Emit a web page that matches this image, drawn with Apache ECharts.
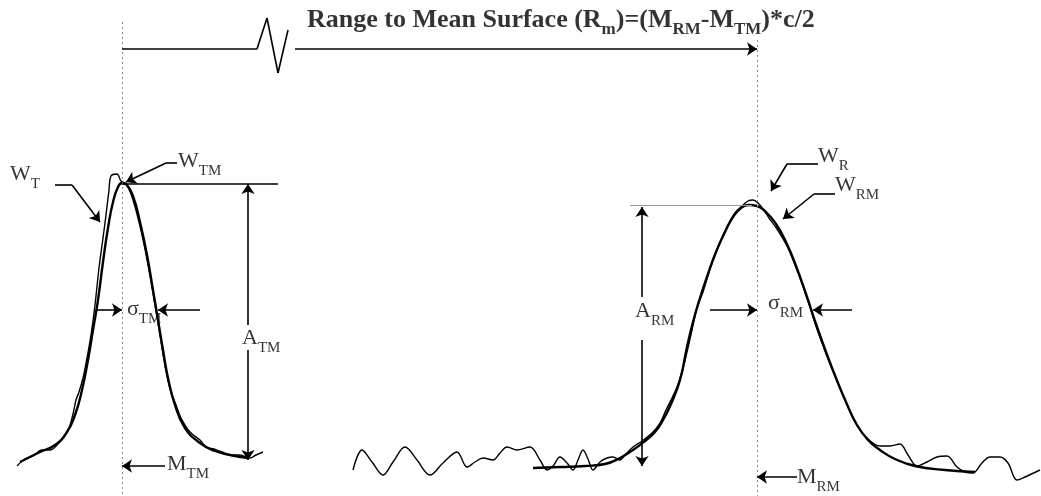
<!DOCTYPE html>
<html>
<head>
<meta charset="utf-8">
<script src="https://cdn.jsdelivr.net/npm/echarts@6/dist/echarts.min.js"></script>
<style>
  html, body { margin: 0; padding: 0; background: #fff; }
  #chart { width: 1041px; height: 496px; }
</style>
</head>
<body>
<div id="chart"></div>
<script>
// Time bin (x) and return amplitude (y) samples of the two pulses.
// Transmitted pulse, raw samples (W_T)
const txRaw = [[17,30],[25,37],[33,40],[42,46],[50,46],[58,52],[64,59],[69,68],[73,82],[76,96],[79,104],[83,118],[87,138],[91,161],[95,191],[99,228],[103,258],[106,281],[109,306],[111,320],[117,322],[121,315],[126,312],[131,302],[137,282],[144,252],[150,220],[155,191],[160,161],[164,136],[167,120],[171,104],[176,91],[181,78],[190,64],[200,56],[206,49],[214,47],[222,44],[232,41],[240,41],[250,38],[256,41],[263,44]];
// Transmitted pulse, fitted model (W_TM)
const txFit = [[20,34],[40,44],[55,51],[67,64],[75,81],[82,106],[88,136],[93,166],[98,196],[103,234],[108,268],[113,294],[118,309],[122,313],[127,311],[133,300],[140,274],[147,241],[153,206],[158,176],[163,146],[168,118],[175,91],[185,68],[200,53],[215,45],[230,41],[248,38]];
// Received pulse, raw samples (W_R)
const rxRaw = [[353,26],[362,46],[372,34],[383,21],[393,34],[405,49],[417,36],[430,21],[443,33],[457,44],[467,29],[475,34],[483,38],[493,36],[500,43],[507,49],[517,46],[530,49],[540,36],[547,26],[553,30],[560,39],[567,33],[573,26],[578,36],[583,46],[588,37],[593,26],[600,34],[607,38],[613,39],[620,36],[625,41],[633,49],[642,55],[652,63],[660,73],[666,86],[672,98],[677,109],[682,124],[687,144],[692,166],[697,188],[703,204],[709,224],[715,241],[721,256],[728,271],[735,283],[742,290],[748,295],[753,296],[758,293],[763,287],[769,278],[777,267],[787,250],[797,226],[807,198],[817,167],[827,140],[835,120],[845,96],[855,74],[866,59],[880,50],[890,50],[900,52],[908,41],[917,30],[927,34],[937,39],[947,40],[957,29],[965,24],[973,23],[982,33],[990,39],[1000,39],[1008,33],[1017,16],[1025,19],[1040,26]];
// Received pulse, fitted model (W_RM)
const rxFit = [[533,28],[560,29],[585,30],[605,32],[620,38],[633,46],[645,55],[655,64],[663,76],[671,92],[680,116],[687,149],[693,174],[700,198],[708,222],[716,244],[725,264],[733,279],[741,288],[749,291],[757,290],[766,284],[776,272],[786,254],[796,230],[806,202],[816,172],[826,144],[836,118],[846,94],[857,71],[868,56],[880,46],[895,37],[915,30],[945,26],[975,24]];

// Fitted pulse parameters
const mTM = 122, mRM = 757;         // pulse means (time bins)
const aTopTM = 312, aBaseTM = 36;   // transmit amplitude top / baseline
const aTopRM = 291, aBaseRM = 30;   // receive amplitude top / baseline
const sigmaLevel = 186;             // level of the width markers

// Text annotations: [x, y, main, subscript]
const labels = [
  [10, 322, 'W', 'T'],
  [178, 335, 'W', 'TM'],
  [127, 187, 'σ', 'TM'],
  [242, 158, 'A', 'TM'],
  [167, 32, 'M', 'TM'],
  [635, 185, 'A', 'RM'],
  [768, 193, 'σ', 'RM'],
  [818, 340, 'W', 'R'],
  [835, 311, 'W', 'RM'],
  [797, 19, 'M', 'RM']
];
const titleText = '{bm|Range to Mean Surface (R}{bs|m}{bm|)=(M}{bs|RM}{bm|-M}{bs|TM}{bm|)*c/2}';

const ink = '#000';
const solid = { color: ink, width: 1.6, type: 'solid' };
const thinGrey = { color: '#9a9a9a', width: 1, type: 'solid' };
const dotted = { color: '#8a8a8a', width: 1, type: [2, 3] };

function seg(a, b, arrow, style) {
  return [
    { coord: a, symbol: 'none', lineStyle: style || solid },
    { coord: b, symbol: arrow ? 'arrow' : 'none', symbolSize: 10 }
  ];
}

const guides = [
  // pulse mean markers
  seg([mTM, 474], [mTM, 0], false, dotted),
  seg([mRM, 456], [mRM, 0], false, dotted),
  // range arrow with break
  seg([mTM, 447], [257, 447]),
  seg([257, 447], [267, 478]),
  seg([267, 478], [278, 423]),
  seg([278, 423], [288, 466]),
  seg([295, 447], [mRM, 447], true),
  // transmit pulse annotations
  seg([mTM, aTopTM], [278, aTopTM]),
  seg([248, 171], [248, aTopTM], true),
  seg([248, 146], [248, aBaseTM], true),
  seg([96, sigmaLevel], [mTM, sigmaLevel], true),
  seg([200, sigmaLevel], [158, sigmaLevel], true),
  seg([165, 30], [mTM, 30], true),
  seg([55, 311], [72, 311]),
  seg([72, 311], [100, 274], true),
  seg([177, 333], [166, 333]),
  seg([166, 333], [126, 314], true),
  // receive pulse annotations
  seg([630, aTopRM], [752, aTopRM], false, thinGrey),
  seg([642, 199], [642, aTopRM - 2], true),
  seg([642, 156], [642, aBaseRM], true),
  seg([710, sigmaLevel], [mRM, sigmaLevel], true),
  seg([852, sigmaLevel], [813, sigmaLevel], true),
  seg([797, 19], [mRM, 19], true),
  seg([818, 332], [787, 332]),
  seg([787, 332], [771, 305], true),
  seg([835, 302], [814, 302]),
  seg([814, 302], [783, 277], true)
];

const serif = '"Liberation Serif", "DejaVu Serif", serif';
const labelData = labels.map(function (l) {
  return { value: [l[0], l[1]], label: { formatter: '{m|' + l[2] + '}{s|' + l[3] + '}' } };
});
labelData.push({ value: [307, 476], label: { formatter: titleText } });

const chart = echarts.init(document.getElementById('chart'), null, { renderer: 'canvas' });
chart.setOption({
  animation: false,
  backgroundColor: '#ffffff',
  grid: { left: 0, right: 0, top: 0, bottom: 0 },
  xAxis: { type: 'value', min: 0, max: 1041, show: false },
  yAxis: { type: 'value', min: 0, max: 496, show: false },
  series: [
    { name: 'W_T', type: 'line', data: txRaw, showSymbol: false, smooth: 0.35,
      lineStyle: { color: ink, width: 1.4 }, silent: true },
    { name: 'W_TM', type: 'line', data: txFit, showSymbol: false, smooth: 0.5,
      lineStyle: { color: ink, width: 2.4 }, silent: true },
    { name: 'W_R', type: 'line', data: rxRaw, showSymbol: false, smooth: 0.35,
      lineStyle: { color: ink, width: 1.4 }, silent: true },
    { name: 'W_RM', type: 'line', data: rxFit, showSymbol: false, smooth: 0.5,
      lineStyle: { color: ink, width: 2.4 }, silent: true },
    { name: 'guides', type: 'line', data: [], silent: true,
      markLine: { silent: true, animation: false, symbol: ['none', 'none'],
        label: { show: false }, emphasis: { disabled: true }, data: guides } },
    { name: 'labels', type: 'scatter', data: labelData, symbolSize: 0.1, silent: true,
      itemStyle: { color: 'rgba(0,0,0,0)' },
      label: {
        show: true, position: 'inside', align: 'left', verticalAlign: 'middle', color: ink,
        rich: {
          m: { fontFamily: serif, fontSize: 22, color: ink, lineHeight: 24 },
          s: { fontFamily: serif, fontSize: 15, color: ink, lineHeight: 15, padding: [20, 0, 0, 0] },
          bm: { fontFamily: serif, fontSize: 26, fontWeight: 'bold', color: ink, lineHeight: 28 },
          bs: { fontFamily: serif, fontSize: 17, fontWeight: 'bold', color: ink, lineHeight: 17, padding: [20, 0, 0, 0] }
        }
      }
    }
  ]
});
</script>
</body>
</html>
